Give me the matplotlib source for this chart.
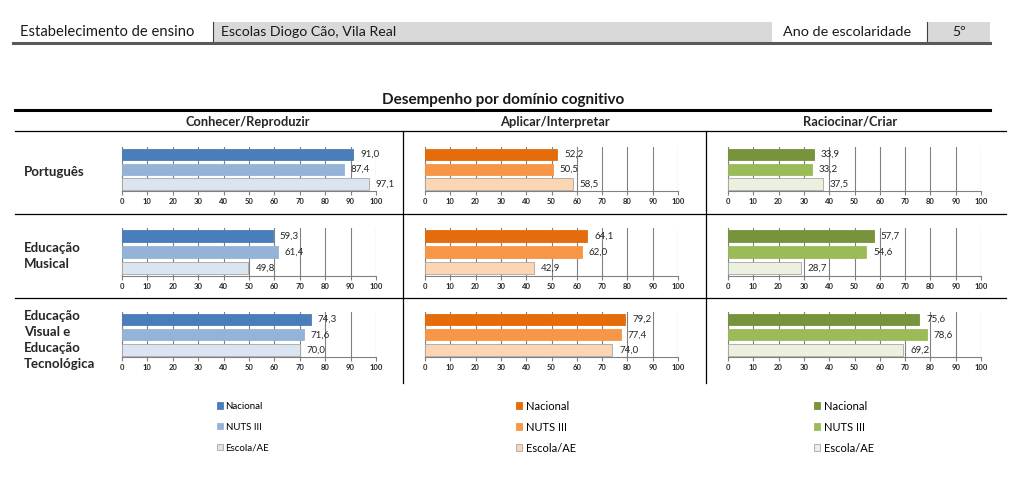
import numpy as np
import matplotlib
matplotlib.use('Agg')
import matplotlib.pyplot as plt
from matplotlib.patches import Rectangle
from matplotlib.lines import Line2D

plt.rcParams['font.family'] = ['Lato', 'DejaVu Sans']

# dados
dominios = ['Conhecer/Reproduzir', 'Aplicar/Interpretar', 'Raciocinar/Criar']
disciplinas = ['Português', 'Educação\nMusical', 'Educação\nVisual e\nEducação\nTecnológica']
series = ['Nacional', 'NUTS III', 'Escola/AE']

# valores[disciplina][dominio] = [Nacional, NUTS III, Escola/AE]
portugues = [[91.0, 87.4, 97.1], [52.2, 50.5, 58.5], [33.9, 33.2, 37.5]]
musical = [[59.3, 61.4, 49.8], [64.1, 62.0, 42.9], [57.7, 54.6, 28.7]]
visual_tec = [[74.3, 71.6, 70.0], [79.2, 77.4, 74.0], [75.6, 78.6, 69.2]]
valores = [portugues, musical, visual_tec]

ticks = list(range(0, 101, 10))

cores = [['#4a7ebb', '#95b3d7', '#dbe5f1'],
         ['#e46c0a', '#f79646', '#fcd5b5'],
         ['#77933c', '#9bbb59', '#ebf1de']]

W, H = 1024, 482
fig = plt.figure(figsize=(W / 100, H / 100), dpi=100)


def fx(px):
    return px / W


def fy(py):
    return 1 - py / H


def hline(x0, x1, y, lw, color='black'):
    fig.add_artist(Line2D([fx(x0), fx(x1)], [fy(y), fy(y)], lw=lw, color=color))


def vline(x, y0, y1, lw, color='black'):
    fig.add_artist(Line2D([fx(x), fx(x)], [fy(y0), fy(y1)], lw=lw, color=color))


# cabeçalho
fig.add_artist(Rectangle((fx(213), fy(42)), fx(772) - fx(213), fy(22) - fy(42), color='#d9d9d9', lw=0))
fig.add_artist(Rectangle((fx(928), fy(42)), fx(990) - fx(928), fy(22) - fy(42), color='#d9d9d9', lw=0))
vline(213, 22, 42, 0.8, '#404040')
vline(927, 22, 42, 0.8, '#404040')
hline(13, 990, 42.5, 2.2, '#595959')
fig.text(fx(20), fy(32), 'Estabelecimento de ensino', fontsize=10.6, va='center', color='#1a1a1a')
fig.text(fx(221), fy(32), 'Escolas Diogo Cão, Vila Real', fontsize=10.2, va='center', color='#1a1a1a')
fig.text(fx(783), fy(32), 'Ano de escolaridade', fontsize=10.4, va='center', color='#1a1a1a')
fig.text(fx(959), fy(32), '5º', fontsize=10, va='center', ha='center', color='#1a1a1a')

# título e grelha da tabela
fig.text(fx(503), fy(100), 'Desempenho por domínio cognitivo', fontsize=11, fontweight='bold',
         ha='center', va='center', color='#1a1a1a')
hline(15, 990, 110, 2.2)
col_centros = [248, 555, 850]
for c, nome in zip(col_centros, dominios):
    fig.text(fx(c), fy(122), nome, fontsize=9.3, fontweight='bold', ha='center', va='center', color='#262626')
hline(15, 1006, 131.5, 0.9)
hline(15, 1006, 213.5, 0.9)
hline(15, 1006, 298, 0.9)
vline(402.5, 131.5, 383, 0.9)
vline(706, 131.5, 383, 0.9)

# etiquetas das linhas
label_y = [172, 256.5, 340.5]
for y, nome in zip(label_y, disciplinas):
    fig.text(fx(24), fy(y), nome, fontsize=9.5, fontweight='bold', va='center', color='#262626',
             linespacing=1.4)

# gráficos
col_x = [(122, 376), (425, 678), (728, 981)]
row_y = [(147, 191), (228, 276), (312, 357)]
pos = [2, 1, 0]

for i in range(3):
    for j in range(3):
        x0, x1 = col_x[j]
        y0, y1 = row_y[i]
        ax = fig.add_axes([fx(x0), fy(y1), fx(x1) - fx(x0), fy(y0) - fy(y1)])
        vals = valores[i][j]
        bars = []
        for k in range(3):
            b = ax.barh(pos[k], vals[k], height=0.75, color=cores[j][k],
                        edgecolor='#a6a6a6' if k == 2 else cores[j][k], lw=0.6, zorder=3,
                        label=series[k])
            bars.append(b)
            ax.annotate(f'{vals[k]:.1f}'.replace('.', ','), (vals[k], pos[k]),
                        xytext=(5, 0), textcoords='offset points', fontsize=7,
                        va='center', ha='left', color='#262626', zorder=4)
        ax.set_xlim(0, 100)
        ax.set_ylim(-0.47, 2.5)
        ax.set_xticks(ticks)
        ax.set_xticklabels([str(t) for t in ticks], fontsize=5.5, fontweight='bold', color='#262626')
        ax.set_yticks([])
        ax.xaxis.grid(True, color='#808080', lw=0.8, zorder=0)
        ax.tick_params(axis='x', length=3, width=0.8, color='#808080', pad=2)
        for s in ['top', 'right']:
            ax.spines[s].set_visible(False)
        for s in ['left', 'bottom']:
            ax.spines[s].set_color('#808080')
            ax.spines[s].set_linewidth(0.8)
        ax.set_facecolor('none')
        if i == 2:
            leg_x = [212, 510, 808][j]
            leg_top = [397, 395, 395][j]
            fig.legend(handles=bars, labels=series, loc='upper left',
                       bbox_to_anchor=(fx(leg_x), fy(leg_top)), frameon=False,
                       fontsize=7 if j == 0 else 8, handlelength=0.6, handleheight=0.6,
                       handletextpad=0.3, labelspacing=1.2 if j == 0 else 0.9, borderpad=0)

fig.savefig('out.png', dpi=100)
